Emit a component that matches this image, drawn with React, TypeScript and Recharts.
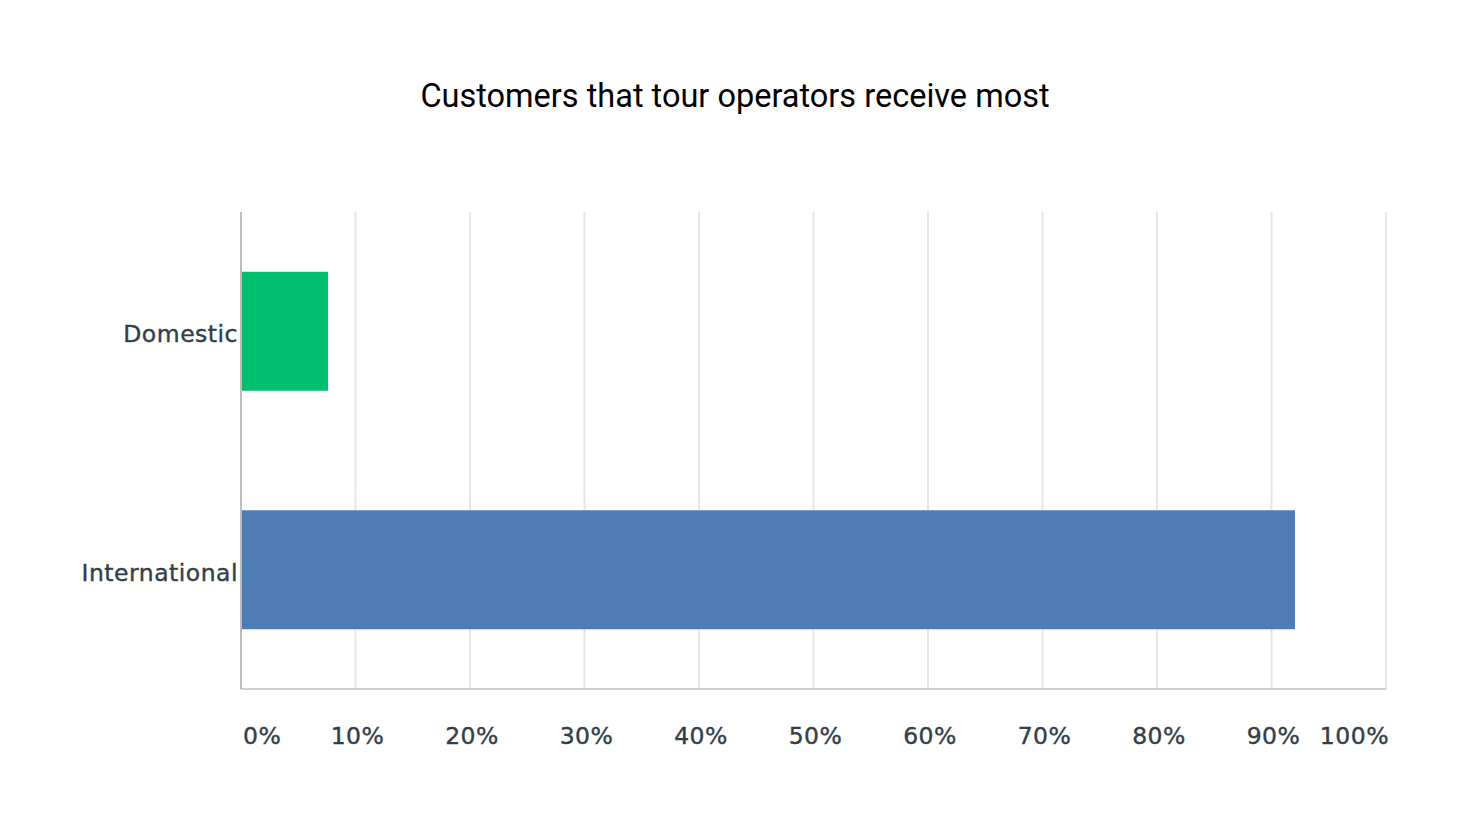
import { BarChart, Bar, XAxis, YAxis, CartesianGrid, Cell } from "recharts";

const categories = ["Domestic", "International"];
const shares = [7.6, 92.05];
const barColors = ["#00BF6F", "#507CB6"];
const xTicks = [0, 10, 20, 30, 40, 50, 60, 70, 80, 90, 100];

const data = categories.map((name, i) => ({ name, value: shares[i] }));

const labelFont = "'DejaVu Sans', sans-serif";

function XTick(props: any) {
  const { x, y, payload } = props;
  const v = payload.value;
  const anchor = v === 0 ? "start" : v === 100 ? "end" : "middle";
  return (
    <text
      x={x + (v === 0 ? 2 : v === 100 ? 3 : 2)}
      y={y}
      dy={47}
      textAnchor={anchor}
      fontSize={23.5}
      letterSpacing={0.5}
      fontFamily={labelFont}
      fill="#333e48"
      stroke="#333e48"
      strokeWidth={0.4}
    >
      {v}%
    </text>
  );
}

function YTick(props: any) {
  const { x, y, payload } = props;
  return (
    <text
      x={x + 5}
      y={y}
      dy={11}
      textAnchor="end"
      fontSize={23.5}
      letterSpacing={0.5}
      fontFamily={labelFont}
      fill="#333e48"
      stroke="#333e48"
      strokeWidth={0.4}
    >
      {payload.value}
    </text>
  );
}

export default function App() {
  return (
    <div
      style={{
        position: "absolute",
        left: 0,
        top: 0,
        width: 1470,
        height: 823,
        background: "#fff",
      }}
    >
      <div
        style={{
          position: "absolute",
          top: 76,
          left: 0,
          width: 1470,
          textAlign: "center",
          fontFamily: "Roboto, sans-serif",
          fontSize: 32.5,
          lineHeight: "40px",
          color: "#000",
        }}
      >
        Customers that tour operators receive most
      </div>
      <BarChart
        width={1470}
        height={823}
        data={data}
        layout="vertical"
        margin={{ top: 212, right: 84, bottom: 54, left: 41 }}
        barCategoryGap="25%"
      >
        <CartesianGrid
          horizontal={false}
          stroke="#e6e6e6"
          strokeWidth={2}
        />
        <XAxis
          type="number"
          domain={[0, 100]}
          ticks={xTicks}
          height={80}
          axisLine={{ stroke: "#cfcfcf", strokeWidth: 2 }}
          tickLine={false}
          tick={<XTick />}
          interval={0}
        />
        <YAxis
          type="category"
          dataKey="name"
          width={200}
          axisLine={{ stroke: "#bdbdbd", strokeWidth: 2 }}
          tickLine={false}
          tick={<YTick />}
        />
        <Bar dataKey="value" isAnimationActive={false}>
          {data.map((d, i) => (
            <Cell key={d.name} fill={barColors[i]} />
          ))}
        </Bar>
      </BarChart>
    </div>
  );
}
